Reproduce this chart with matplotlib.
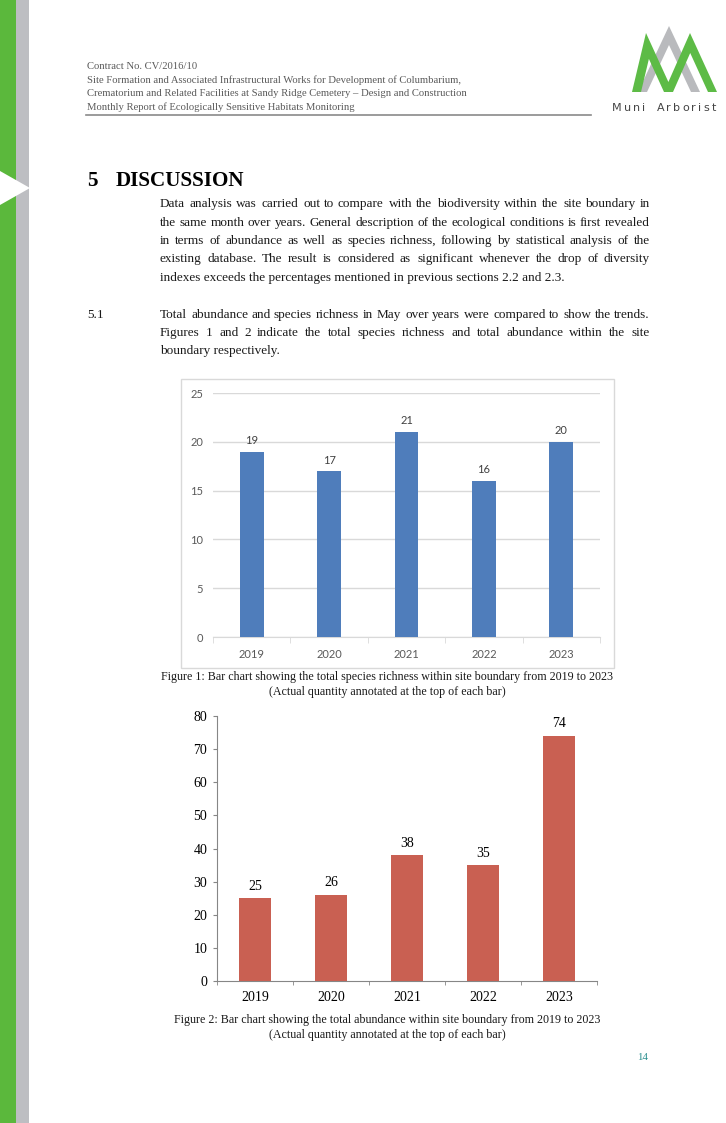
"""Recreate report page 14: discussion text with two bar charts."""

import matplotlib

matplotlib.use("Agg")
import matplotlib.pyplot as plt
from matplotlib.lines import Line2D
from matplotlib.patches import Polygon, Rectangle

W, H = 726, 1123

years = ["2019", "2020", "2021", "2022", "2023"]
richness = [19, 17, 21, 16, 20]
abundance = [25, 26, 38, 35, 74]
richness_ticks = [0, 5, 10, 15, 20, 25]
abundance_ticks = [0, 10, 20, 30, 40, 50, 60, 70, 80]

header_lines = [
    "Contract No. CV/2016/10",
    "Site Formation and Associated Infrastructural Works for Development of Columbarium,",
    "Crematorium and Related Facilities at Sandy Ridge Cemetery \u2013 Design and Construction",
    "Monthly Report of Ecologically Sensitive Habitats Monitoring",
]
para1 = [
    "Data analysis was carried out to compare with the biodiversity within the site boundary in",
    "the same month over years. General description of the ecological conditions is first revealed",
    "in terms of abundance as well as species richness, following by statistical analysis of the",
    "existing database. The result is considered as significant whenever the drop of diversity",
    "indexes exceeds the percentages mentioned in previous sections 2.2 and 2.3.",
]
para2 = [
    "Total abundance and species richness in May over years were compared to show the trends.",
    "Figures 1 and 2 indicate the total species richness and total abundance within the site",
    "boundary respectively.",
]
caption1 = [
    "Figure 1: Bar chart showing the total species richness within site boundary from 2019 to 2023",
    "(Actual quantity annotated at the top of each bar)",
]
caption2 = [
    "Figure 2: Bar chart showing the total abundance within site boundary from 2019 to 2023",
    "(Actual quantity annotated at the top of each bar)",
]

SERIF = "Liberation Serif"
TEXT = "#1a1a1a"


def fx(x):
    return x / W


def fy(y):
    return 1 - y / H


def ax_rect(left, top, right, bottom):
    return [fx(left), fy(bottom), (right - left) / W, (bottom - top) / H]


fig = plt.figure(figsize=(W / 100, H / 100), dpi=100)
fig.patch.set_facecolor("white")
renderer = fig.canvas.get_renderer()


def put(x, y, s, **kw):
    kw.setdefault("family", SERIF)
    kw.setdefault("color", TEXT)
    kw.setdefault("va", "baseline")
    return fig.text(fx(x), fy(round(y)), s, **kw)


def justified(line, x0, x1, y, last=False, **kw):
    if last:
        put(x0, y, line, **kw)
        return
    words = line.split()
    texts = [put(x0, y, w, **kw) for w in words]
    widths = [t.get_window_extent(renderer).width for t in texts]
    gap = (x1 - x0 - sum(widths)) / (len(words) - 1)
    x = x0
    for t, w in zip(texts, widths):
        t.set_x(fx(round(x)))
        x += w + gap


def page_poly(points, color, z=1):
    fig.patches.append(Polygon([(fx(a), fy(b)) for a, b in points], closed=True,
                               transform=fig.transFigure, facecolor=color,
                               edgecolor="none", zorder=z))


# left page stripe
page_poly([(0, 0), (16, 0), (16, H), (0, H)], "#5bb83c")
page_poly([(16, 0), (29, 0), (29, H), (16, H)], "#bdbec2")
page_poly([(0, 171), (30, 188), (0, 205)], "white", z=2)

# header
for i, s in enumerate(header_lines):
    put(87, 69 + 13.7 * i, s, fontsize=7.7, color="#5a5a5a")
fig.lines.append(Line2D([fx(86), fx(591)], [fy(114.5), fy(114.5)],
                        transform=fig.transFigure, color="#8a8a8a", lw=1.2))

# logo
page_poly([(638, 92), (669, 26), (700, 92), (691, 92), (669, 45), (647, 92)], "#b9babd")
page_poly([(632, 92), (646, 33), (668.4, 82), (690, 33), (717, 92), (708, 92),
           (690.2, 53), (673, 92), (664, 92), (648.9, 58.9), (641, 92)], "#5dbb46", z=2)
name = "Muni Arborist"
x = 612
for ch in name:
    t = put(x, 111, ch, fontsize=8, family="DejaVu Sans", color="#454545")
    x += t.get_window_extent(renderer).width + 2.2
    if ch == " ":
        x += 3

# heading
put(87, 186, "5", fontsize=15.2, weight="bold", color="black")
put(116, 186, "DISCUSSION", fontsize=15.2, weight="bold", color="black")

# paragraphs
for i, s in enumerate(para1):
    justified(s, 160, 650, 207 + 18.5 * i, last=(i == len(para1) - 1), fontsize=9.5)
put(87, 317.5, "5.1", fontsize=9.5)
for i, s in enumerate(para2):
    justified(s, 160, 650, 317.5 + 18.5 * i, last=(i == len(para2) - 1), fontsize=9.5)

# figure 1: species richness
fig.patches.append(Rectangle((fx(181), fy(668)), (614 - 181) / W, (668 - 379) / H,
                             transform=fig.transFigure, facecolor="white",
                             edgecolor="#d9d9d9", lw=1, zorder=-5))
ax1 = fig.add_axes(ax_rect(213, 393, 600, 637))
pos = list(range(len(years)))
bars = ax1.bar(pos, richness, width=0.31, color="#4f7dbb", zorder=3)
ax1.set_xlim(-0.5, len(years) - 0.5)
ax1.set_ylim(0, 25)
ax1.set_yticks(richness_ticks)
ax1.set_xticks(pos)
ax1.set_xticklabels(years)
ax1.set_xticks([p - 0.5 for p in pos] + [len(years) - 0.5], minor=True)
ax1.grid(axis="y", color="#d9d9d9", lw=1, zorder=0)
for s in ["top", "right", "left"]:
    ax1.spines[s].set_visible(False)
ax1.spines["bottom"].set_color("#d9d9d9")
ax1.tick_params(axis="y", length=0, pad=7, labelsize=8, labelcolor="#595959")
ax1.tick_params(axis="x", which="major", length=0, pad=8.5, labelsize=8, labelcolor="#595959")
ax1.tick_params(axis="x", which="minor", length=4, color="#d9d9d9")
for lbl in ax1.get_xticklabels() + ax1.get_yticklabels():
    lbl.set_family("Lato")
for b, v in zip(bars, richness):
    ax1.annotate(str(v), (b.get_x() + b.get_width() / 2, v), xytext=(0, 4),
                 textcoords="offset points", ha="center", va="bottom",
                 fontsize=8, family="Lato", color="#404040")
ax1.set_facecolor("none")

for i, s in enumerate(caption1):
    put(387, 680 + 15 * i, s, fontsize=8.65, ha="center")

# figure 2: abundance
ax2 = fig.add_axes(ax_rect(217, 716, 597, 981))
bars2 = ax2.bar(pos, abundance, width=0.41, color="#c96052", zorder=3)
ax2.set_xlim(-0.5, len(years) - 0.5)
ax2.set_ylim(0, 80)
ax2.set_yticks(abundance_ticks)
ax2.set_xticks(pos)
ax2.set_xticklabels(years)
ax2.set_xticks([p - 0.5 for p in pos] + [len(years) - 0.5], minor=True)
for s in ["top", "right"]:
    ax2.spines[s].set_visible(False)
for s in ["left", "bottom"]:
    ax2.spines[s].set_color("#868686")
ax2.tick_params(axis="y", length=3, color="#868686", pad=4, labelsize=10)
ax2.tick_params(axis="x", which="major", length=0, pad=7.5, labelsize=10)
ax2.tick_params(axis="x", which="minor", length=3, color="#868686")
for lbl in ax2.get_xticklabels() + ax2.get_yticklabels():
    lbl.set_family(SERIF)
for b, v in zip(bars2, abundance):
    ax2.annotate(str(v), (b.get_x() + b.get_width() / 2, v), xytext=(0, 4),
                 textcoords="offset points", ha="center", va="bottom",
                 fontsize=10, family=SERIF, color="black")

for i, s in enumerate(caption2):
    put(387, 1023 + 15.5 * i, s, fontsize=8.65, ha="center")

put(643, 1060, "14", fontsize=7.8, ha="center", color="#2b8f8f")

fig.savefig("out.png", dpi=100)
